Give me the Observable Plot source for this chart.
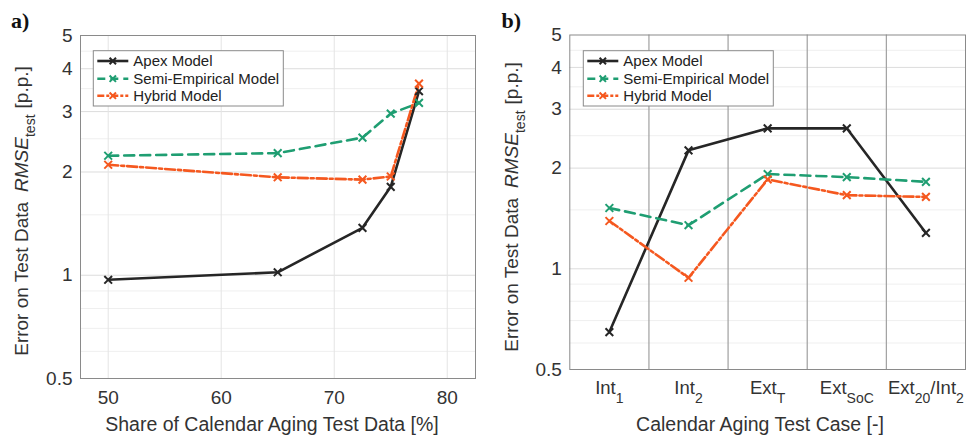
<!DOCTYPE html>
<html><head><meta charset="utf-8">
<script src="https://cdn.jsdelivr.net/npm/d3@7"></script>
<script src="https://cdn.jsdelivr.net/npm/@observablehq/plot@0.6"></script>
<style>
body{margin:0;background:#fff;}
#wrap{position:relative;width:969px;height:435px;overflow:hidden;background:#fff;}
#wrap svg{position:absolute;top:0;overflow:visible;}
</style></head><body><div id="wrap"></div>
<script>
// ---------- data ----------
const models = ["Apex Model", "Semi-Empirical Model", "Hybrid Model"];
const shares = [50, 65, 72.5, 75, 77.5];
const apexA = [0.97, 1.02, 1.375, 1.81, 3.44];
const semiA = [2.23, 2.27, 2.52, 2.96, 3.18];
const hybridA = [2.10, 1.93, 1.90, 1.94, 3.62];

const cases = ["Int1", "Int2", "ExtT", "ExtSoC", "Ext20/Int2"];
const caseLabelParts = [["Int", "1"], ["Int", "2"], ["Ext", "T"], ["Ext", "SoC"], ["Ext", "20", "/Int", "2"]];
const apexB = [0.647, 2.26, 2.63, 2.63, 1.28];
const semiB = [1.52, 1.35, 1.92, 1.88, 1.82];
const hybridB = [1.39, 0.94, 1.85, 1.66, 1.64];

const yTicks = [0.5, 1, 2, 3, 4, 5];
const yMajorGrid = [1, 2, 3, 4];
const yMinorGrid = [0.6, 0.7, 0.8, 0.9, 1.5, 2.5, 3.5, 4.5];
const xTicksA = [50, 60, 70, 80];
const caseSeparators = [1.5, 2.5, 3.5, 4.5];

// ---------- styles ----------
const colors = {"Apex Model": "#262626", "Semi-Empirical Model": "#1f9e72", "Hybrid Model": "#f5581f"};
const dashes = {"Apex Model": null, "Semi-Empirical Model": "10,6", "Hybrid Model": "10,3,3,3"};
const FONT = "'Liberation Sans', Arial, Helvetica, sans-serif";
const TXT = "#333";

const rowsA = [];
[apexA, semiA, hybridA].forEach((vals, m) => vals.forEach((v, i) => rowsA.push({model: models[m], x: shares[i], y: v})));
const rowsB = [];
[apexB, semiB, hybridB].forEach((vals, m) => vals.forEach((v, i) => rowsB.push({model: models[m], x: i + 1, case: cases[i], y: v})));

function seriesMarks(rows) {
  const out = [];
  for (const m of models) {
    const r = rows.filter(d => d.model === m);
    out.push(Plot.line(r, {x: "x", y: "y", stroke: colors[m], strokeWidth: 2.6, strokeDasharray: dashes[m], strokeLinejoin: "round"}));
  }
  for (const m of models) {
    const r = rows.filter(d => d.model === m);
    out.push(Plot.dot(r, {x: "x", y: "y", symbol: "times", r: 3.6, stroke: colors[m], strokeWidth: 2, fill: "none"}));
  }
  return out;
}

const wrap = document.getElementById("wrap");

function addLegend(svg, bx, by, bw, bh) {
  const g = d3.select(svg).append("g").attr("font-family", FONT).attr("text-anchor", "start");
  g.append("rect").attr("x", bx).attr("y", by).attr("width", bw).attr("height", bh)
    .attr("fill", "#fff").attr("stroke", "#8a8a8a").attr("stroke-width", 1);
  const rowsY = [61, 78.7, 95.7];
  models.forEach((m, i) => {
    const y = rowsY[i];
    const x0 = bx + 4, x1 = bx + 35;
    g.append("line").attr("x1", x0).attr("x2", x1).attr("y1", y).attr("y2", y)
      .attr("stroke", colors[m]).attr("stroke-width", 2.6)
      .attr("stroke-dasharray", m === "Apex Model" ? null : (m === "Semi-Empirical Model" ? "8,5" : "7,2,3,2"));
    const cx = (x0 + x1) / 2, s = 3.2;
    g.append("path").attr("d", `M${cx - s},${y - s}L${cx + s},${y + s}M${cx - s},${y + s}L${cx + s},${y - s}`)
      .attr("stroke", colors[m]).attr("stroke-width", 2).attr("fill", "none");
    g.append("text").attr("x", bx + 40).attr("y", y + 5.3).attr("text-anchor", "start")
      .attr("font-size", 15).attr("fill", "#222").text(m);
  });
}

function addYLabel(svg, x, y) {
  const t = d3.select(svg).append("text")
    .attr("transform", `translate(${x},${y}) rotate(-90)`)
    .attr("text-anchor", "middle").attr("font-family", FONT).attr("font-size", 19).attr("fill", TXT);
  t.append("tspan").text("Error on Test Data");
  t.append("tspan").attr("dx", 10).attr("font-style", "italic").text("RMSE");
  t.append("tspan").attr("dy", 7).attr("font-size", 14).text("test");
  t.append("tspan").attr("dy", -7).attr("dx", 6).text("[p.p.]");
}

function addText(svg, x, y, txt, opts = {}) {
  d3.select(svg).append("text").attr("x", x).attr("y", y)
    .attr("text-anchor", opts.anchor || "middle")
    .attr("font-family", opts.family || FONT).attr("font-size", opts.size || 19.5)
    .attr("font-weight", opts.weight || null).attr("fill", opts.fill || TXT).text(txt);
}

// ---------- panel a ----------
const svgA = Plot.plot({
  width: 484, height: 435,
  marginLeft: 80, marginRight: 9, marginTop: 35, marginBottom: 57,
  style: {fontFamily: FONT, background: "transparent", overflow: "visible"},
  x: {domain: [47.55, 82.5]},
  y: {type: "log", domain: [0.5, 5]},
  marks: [
    Plot.gridY(yMinorGrid, {stroke: "#efefef", strokeOpacity: 1}),
    Plot.gridY(yMajorGrid, {stroke: "#dcdcdc", strokeOpacity: 1}),
    Plot.gridX(xTicksA, {stroke: "#e4e4e4", strokeOpacity: 1}),
    Plot.frame({stroke: "#8a8a8a"}),
    ...seriesMarks(rowsA),
    Plot.axisX(xTicksA, {tickSize: 0, tickPadding: 12, fontSize: 19, color: TXT, label: null, tickFormat: d => String(d)}),
    Plot.axisY(yTicks, {tickSize: 0, tickPadding: 8, fontSize: 19, color: TXT, label: null, tickFormat: d => String(d)})
  ]
});
svgA.style.left = "0px";
wrap.appendChild(svgA);
addLegend(svgA, 93.3, 50.7, 190, 55.3);
addYLabel(svgA, 28, 211);
addText(svgA, 272, 431, "Share of Calendar Aging Test Data [%]");
addText(svgA, 11, 28, "a)", {anchor: "start", family: "'Liberation Serif', 'Times New Roman', serif", size: 22, weight: "bold", fill: "#111"});

// ---------- panel b ----------
const svgB = Plot.plot({
  width: 485, height: 435,
  marginLeft: 85.3, marginRight: 4, marginTop: 34.5, marginBottom: 66,
  style: {fontFamily: FONT, background: "transparent", overflow: "visible"},
  x: {domain: [0.5, 5.5]},
  y: {type: "log", domain: [0.5, 5]},
  marks: [
    Plot.gridY(yMinorGrid, {stroke: "#efefef", strokeOpacity: 1}),
    Plot.gridY(yMajorGrid, {stroke: "#dcdcdc", strokeOpacity: 1}),
    Plot.gridX(caseSeparators, {stroke: "#a0a0a0", strokeOpacity: 1, strokeWidth: 1.2}),
    Plot.frame({stroke: "#8a8a8a"}),
    ...seriesMarks(rowsB),
    Plot.axisX([1, 2, 3, 4, 5], {tickSize: 0, tickPadding: 11, fontSize: 18.5, color: TXT, label: null, tickFormat: d => cases[d - 1]}),
    Plot.axisY(yTicks, {tickSize: 0, tickPadding: 8, fontSize: 19, color: TXT, label: null, tickFormat: d => String(d)})
  ]
});
svgB.style.left = "484px";
wrap.appendChild(svgB);
// subscripts on category tick labels
d3.select(svgB).selectAll('g[aria-label="x-axis tick label"] text').each(function(d, i) {
  const parts = caseLabelParts[i];
  const t = d3.select(this);
  t.text(null);
  parts.forEach((p, k) => {
    const ts = t.append("tspan").text(p);
    if (k % 2 === 1) ts.attr("dy", 9).attr("font-size", 14);
    else if (k > 0) ts.attr("dy", -9);
  });
});
addLegend(svgB, 99.3, 50.7, 190, 55.3);
addYLabel(svgB, 34, 207);
addText(svgB, 276, 431, "Calendar Aging Test Case [-]");
addText(svgB, 17.5, 28, "b)", {anchor: "start", family: "'Liberation Serif', 'Times New Roman', serif", size: 22, weight: "bold", fill: "#111"});
</script>
</body></html>
